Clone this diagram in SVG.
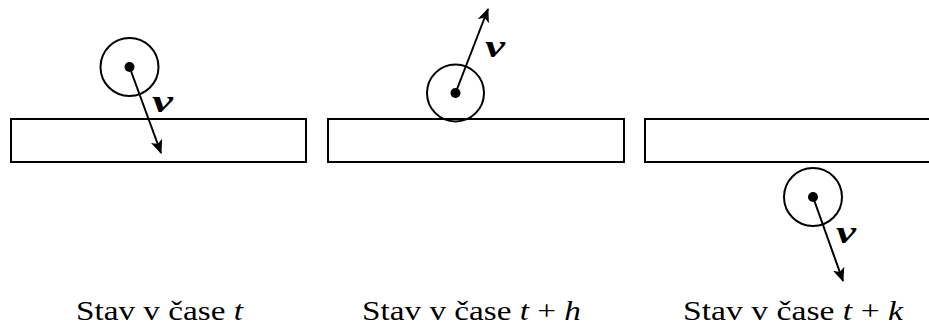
<svg xmlns="http://www.w3.org/2000/svg" width="929" height="327" viewBox="0 0 929 327">
<style>
.bar{fill:none;stroke:#000;stroke-width:2}
.ball{fill:none;stroke:#000;stroke-width:2}
.dot{fill:#000}
.vec{stroke:#000;stroke-width:2;fill:none}
.v{font-family:"Liberation Serif",serif;font-style:italic;font-weight:bold;font-size:32px}
.cap{font-family:"Liberation Serif",serif;font-size:28px}
.m{font-style:italic}
</style>
<defs>
<marker id="ah" viewBox="0 0 14 12" refX="13" refY="6" markerWidth="7" markerHeight="6" orient="auto" markerUnits="strokeWidth">
<path d="M0,0 L14,6 L0,12 L3.5,6 Z" fill="#000"/>
</marker>
</defs>
<g id="panel1">
<rect class="bar" x="11" y="119" width="295" height="43"/>
<circle class="ball" cx="129.5" cy="67" r="29"/>
<circle class="dot" cx="129.5" cy="67" r="5"/>
<text class="cap" x="76" y="320" textLength="167" lengthAdjust="spacingAndGlyphs">Stav v čase <tspan class="m">t</tspan></text>
</g>
<g id="panel2">
<rect class="bar" x="328" y="119" width="296" height="43"/>
<circle class="ball" cx="455.5" cy="93" r="28.5"/>
<circle class="dot" cx="455.5" cy="93" r="5"/>
<text class="cap" x="362" y="320" textLength="219" lengthAdjust="spacingAndGlyphs">Stav v čase <tspan class="m">t</tspan> + <tspan class="m">h</tspan></text>
</g>
<g id="panel3">
<rect class="bar" x="645" y="119" width="300" height="43"/>
<circle class="ball" cx="813" cy="197" r="29"/>
<circle class="dot" cx="813" cy="197" r="5"/>
<text class="cap" x="683" y="320" textLength="220" lengthAdjust="spacingAndGlyphs">Stav v čase <tspan class="m">t</tspan> + <tspan class="m">k</tspan></text>
</g>
<g id="connectors">
<line class="vec" x1="129.5" y1="67" x2="161" y2="153" marker-end="url(#ah)"/>
<text class="v" x="152" y="112" textLength="21" lengthAdjust="spacingAndGlyphs">v</text>
<line class="vec" x1="455.5" y1="93" x2="488" y2="9" marker-end="url(#ah)"/>
<text class="v" x="485" y="57" textLength="20" lengthAdjust="spacingAndGlyphs">v</text>
<line class="vec" x1="813" y1="197" x2="843" y2="281" marker-end="url(#ah)"/>
<text class="v" x="836" y="243" textLength="20" lengthAdjust="spacingAndGlyphs">v</text>
</g>
</svg>
